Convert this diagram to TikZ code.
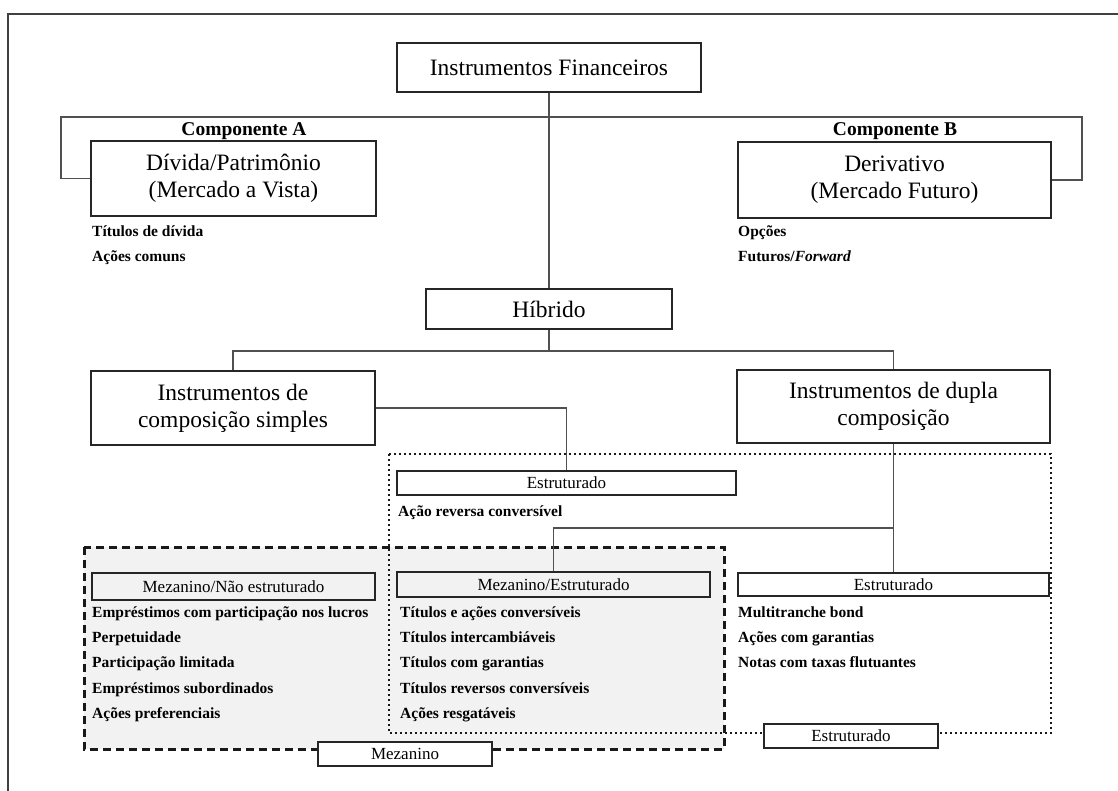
\documentclass[tikz,border=0pt]{standalone}
\usepackage{fontspec}
\setmainfont{Liberation Serif}
\definecolor{graybg}{HTML}{F2F2F2}
\definecolor{connc}{HTML}{505050}
\begin{document}
\begin{tikzpicture}[x=1pt,y=-1pt,
  bigbox/.style={draw=black!85,line width=1.4pt,align=center,inner sep=0pt,
    font=\fontsize{23.5}{27}\selectfont},
  labbox/.style={draw=black!85,line width=1.4pt,inner sep=0pt,
    font=\fontsize{17}{19}\selectfont},
  item/.style={anchor=base west,inner sep=0pt,font=\fontsize{15.5}{17}\selectfont\bfseries},
  comp/.style={anchor=base,inner sep=0pt,font=\fontsize{19.5}{21}\selectfont\bfseries},
  conn/.style={draw=connc,line width=1.8pt},
  dashedframe/.style={draw=black!90,line width=3pt,dash pattern=on 8pt off 5pt},
  dottedframe/.style={draw=black!90,line width=2.4pt,dash pattern=on 2.2pt off 2.8pt},
]
\useasboundingbox (0,0) rectangle (1118,791);
\fill[white] (0,0) rectangle (1118,791);
% outer frame
\draw[line width=1.6pt,black!75] (8,791) -- (8,14) -- (1118,14);

% grouping regions
\fill[graybg] (84,547) rectangle (724,749);
\draw[dashedframe] (84,547) rectangle (724,749);
\draw[dottedframe] (389,454) rectangle (1051,733);

% main boxes
\node[bigbox,minimum width=304pt,minimum height=49pt] (fin) at (549,67.5) {Instrumentos Financeiros};
\node[bigbox,minimum width=285pt,minimum height=75pt] (div) at (233.5,178.5) {Dívida/Patrimônio\\(Mercado a Vista)};
\node[bigbox,minimum width=313pt,minimum height=76pt] (der) at (894.5,180) {Derivativo\\(Mercado Futuro)};
\node[bigbox,minimum width=246pt,minimum height=40pt] (hib) at (549,309) {Híbrido};
\node[bigbox,minimum width=284pt,minimum height=74pt] (simp) at (233,408) {Instrumentos de\\composição simples};
\node[bigbox,minimum width=313pt,minimum height=73pt] (dup) at (893.5,406.5) {Instrumentos de dupla\\composição};

% component labels
\node[comp] (cA) at (244,136) {Componente A};
\node[comp] (cB) at (895,136) {Componente B};

% small label boxes
\node[labbox,fill=white,minimum width=339pt,minimum height=24pt] (est1) at (566.5,483) {Estruturado};
\node[labbox,fill=graybg,minimum width=283pt,minimum height=27pt] (mezN) at (233.5,586.5) {Mezanino/Não estruturado};
\node[labbox,fill=graybg,minimum width=313pt,minimum height=25pt] (mezE) at (553.5,584.5) {Mezanino/Estruturado};
\node[labbox,fill=white,minimum width=311pt,minimum height=23pt] (est2) at (893.5,584.5) {Estruturado};
\node[labbox,fill=white,minimum width=174pt,minimum height=24pt] (mezL) at (405,754) {Mezanino};
\node[labbox,fill=white,minimum width=174pt,minimum height=24pt] (estL) at (851,736) {Estruturado};

% connectors
\coordinate (jA) at (61,117);
\coordinate (jB) at (1082,117);
\draw[conn] (fin.south) -- (hib.north);
\draw[conn] (jA -| fin.south) -- (jA) |- (div.west);
\draw[conn] (jA -| fin.south) -- (jB) |- (der.east);
\coordinate (jH) at ([yshift=-21pt]hib.south);
\draw[conn] (hib.south) -- (jH);
\draw[conn] (simp.north) |- (jH) -| (dup.north);
\draw[conn] (simp.east) -| (est1.north);
\draw[conn] (dup.south) -- (est2.north);
\coordinate (jD) at (893,528);
\draw[conn] (jD -| dup.south) -| (mezE.north);

% item lists
\node[item] (a1) at (92,237) {Títulos de dívida};
\node[item] (a2) at (92,262) {Ações comuns};
\node[item] (b1) at (738,237) {Opções};
\node[item] (b2) at (738,262) {Futuros/\textit{Forward}};
\node[item] (e1) at (398,516) {Ação reversa conversível};
\node[item] (n1) at (92,617) {Empréstimos com participação nos lucros};
\node[item] (n2) at (92,642) {Perpetuidade};
\node[item] (n3) at (92,667.5) {Participação limitada};
\node[item] (n4) at (92,693) {Empréstimos subordinados};
\node[item] (n5) at (92,718) {Ações preferenciais};
\node[item] (m1) at (400,617) {Títulos e ações conversíveis};
\node[item] (m2) at (400,642) {Títulos intercambiáveis};
\node[item] (m3) at (400,667.5) {Títulos com garantias};
\node[item] (m4) at (400,693) {Títulos reversos conversíveis};
\node[item] (m5) at (400,718) {Ações resgatáveis};
\node[item] (s1) at (738,617) {Multitranche bond};
\node[item] (s2) at (738,642) {Ações com garantias};
\node[item] (s3) at (738,667.5) {Notas com taxas flutuantes};
\end{tikzpicture}
\end{document}
